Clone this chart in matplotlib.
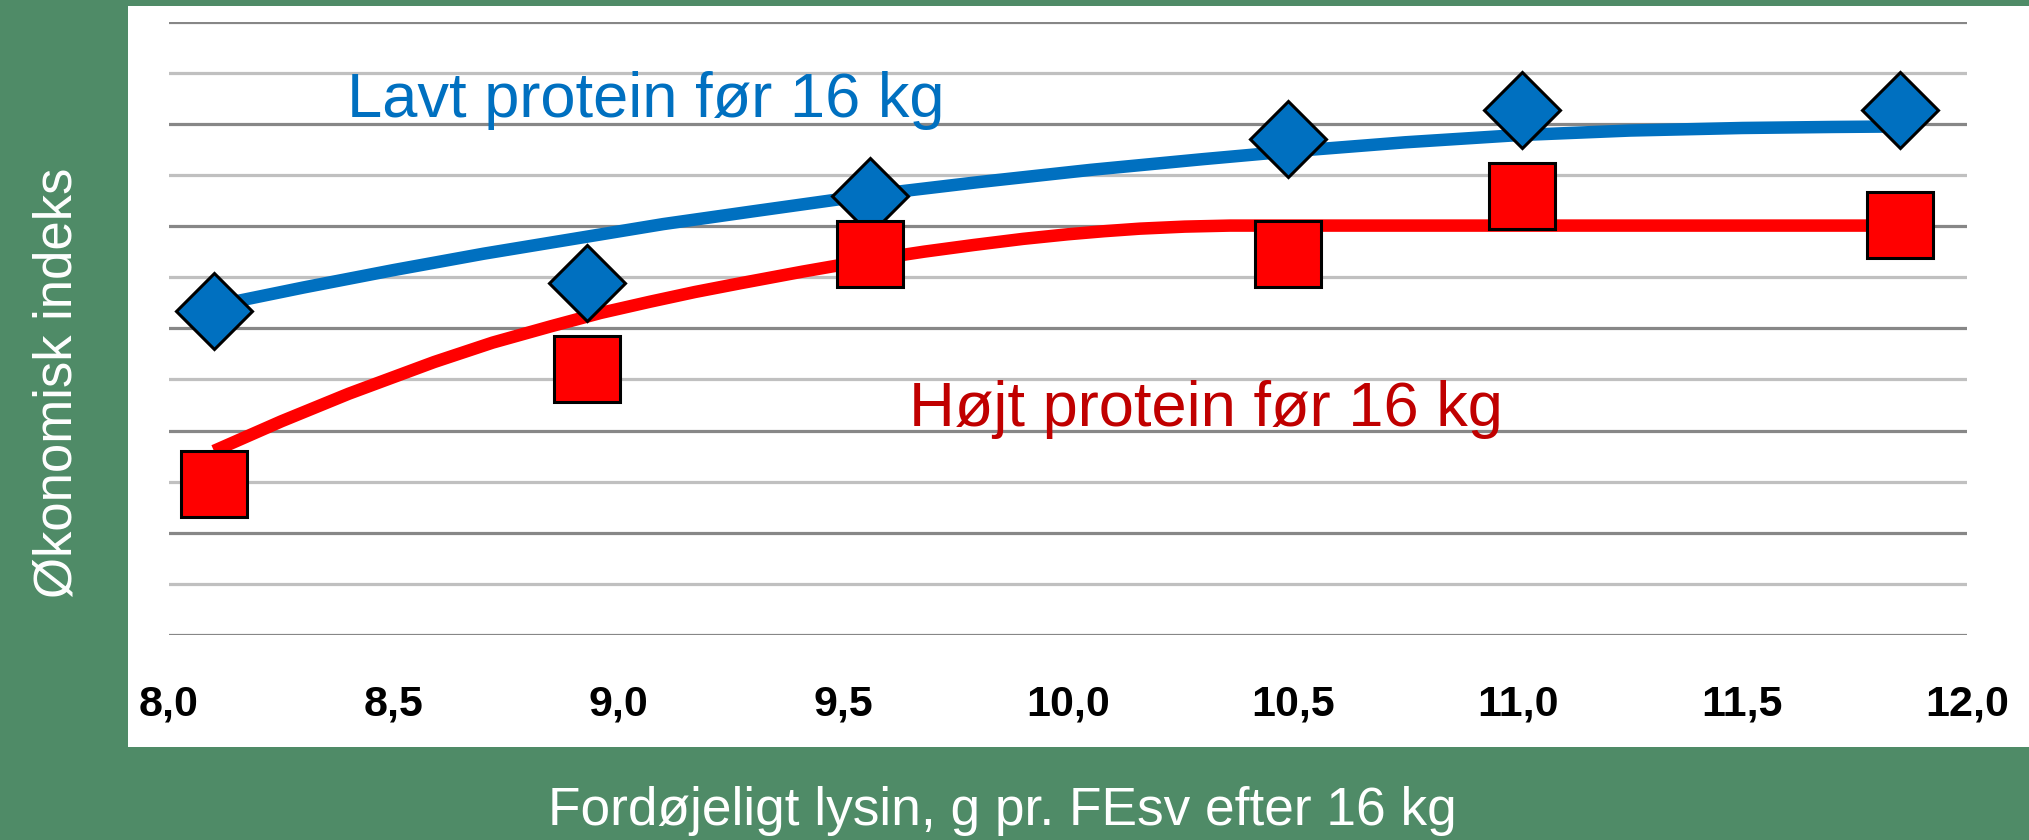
import numpy as np
import matplotlib
matplotlib.use("Agg")
import matplotlib.pyplot as plt
from matplotlib.patches import Rectangle

plt.rcParams['font.family'] = ['Liberation Sans', 'DejaVu Sans']

# observed points (x = digestible lysine, y = index in gridline units)
lysin = [8.10, 8.93, 9.56, 10.49, 11.01, 11.85]
lavt_obs = [6.33, 6.88, 8.58, 9.71, 10.27, 10.27]
hojt_obs = [2.95, 5.20, 7.45, 7.45, 8.58, 8.02]

# fitted curves
lavt_fit_x = [8.10, 8.30, 8.50, 8.70, 8.90, 9.10, 9.30, 9.56, 9.80, 10.05, 10.30, 10.49,
              10.75, 11.00, 11.25, 11.50, 11.70, 11.85]
lavt_fit_y = [6.44, 6.80, 7.14, 7.46, 7.75, 8.04, 8.29, 8.61, 8.86, 9.10, 9.31, 9.46,
              9.64, 9.78, 9.87, 9.92, 9.94, 9.95]
hojt_fit_x = [8.10, 8.25, 8.40, 8.59, 8.72, 8.85, 8.96, 9.07, 9.17, 9.27, 9.41, 9.56, 9.68,
              9.79, 9.90, 10.00, 10.08, 10.16, 10.26, 10.36, 11.85]
hojt_fit_y = [3.60, 4.18, 4.72, 5.34, 5.72, 6.04, 6.30, 6.52, 6.71, 6.88, 7.11, 7.34, 7.50,
              7.63, 7.75, 7.84, 7.90, 7.95, 7.99, 8.01, 8.01]

xticks = [8.0, 8.5, 9.0, 9.5, 10.0, 10.5, 11.0, 11.5, 12.0]
xlabels = [f"{t:.1f}".replace('.', ',') for t in xticks]

green = '#4F8B67'
blue = '#0070C0'
red = '#FF0000'
darkred = '#C00000'

fig = plt.figure(figsize=(20.29, 8.40), dpi=100)
fig.patch.set_facecolor(green)

# white chart panel
fig.patches.append(Rectangle((128 / 2029, 1 - 747 / 840), 1 - 128 / 2029, (747 - 6) / 840,
                             transform=fig.transFigure, facecolor='white', edgecolor='none', zorder=-10))

ax = fig.add_axes([169 / 2029, 1 - 634.9 / 840, (1967 - 169) / 2029, (634.9 - 21.7) / 840])
ax.set_facecolor('none')
ax.set_xlim(8, 12)
ax.set_ylim(0, 12)
for s in ax.spines.values():
    s.set_visible(False)

ax.set_yticks(np.arange(0, 13, 2))
ax.set_yticks(np.arange(1, 12, 2), minor=True)
ax.grid(which='major', axis='y', color='#878787', linewidth=2.3)
ax.grid(which='minor', axis='y', color='#C0C0C0', linewidth=2.3)
ax.tick_params(axis='y', which='both', left=False, labelleft=False)
ax.set_axisbelow(True)

ax.set_xticks(xticks)
ax.set_xticklabels(xlabels, fontsize=31, fontweight='bold')
ax.tick_params(axis='x', length=0, pad=36)

ax.plot(lavt_fit_x, lavt_fit_y, color=blue, linewidth=9, solid_capstyle='butt',
        solid_joinstyle='round', zorder=2)
ax.plot(hojt_fit_x, hojt_fit_y, color=red, linewidth=9, solid_capstyle='butt',
        solid_joinstyle='round', zorder=2)

ax.plot(lysin, lavt_obs, linestyle='none', marker='D', markersize=38.5, markerfacecolor=blue,
        markeredgecolor='black', markeredgewidth=2.2, zorder=3, clip_on=False)
ax.plot(lysin, hojt_obs, linestyle='none', marker='s', markersize=47, markerfacecolor=red,
        markeredgecolor='black', markeredgewidth=2.2, zorder=4, clip_on=False)

ax.text(8.396, 10.135, "Lavt protein før 16 kg", color=blue, fontsize=45.5, va='baseline', ha='left')
ax.text(9.646, 4.094, "Højt protein før 16 kg", color=darkred, fontsize=45.5, va='baseline', ha='left')

fig.text(1002 / 2029, 1 - 811 / 840, "Fordøjeligt lysin, g pr. FEsv efter 16 kg",
         color='white', fontsize=38.3, ha='center', va='center')
fig.text(58 / 2029, 1 - 383 / 840, "Økonomisk indeks", color='white', fontsize=38,
         rotation=90, ha='center', va='center')

fig.savefig('out.png', dpi=100, facecolor=fig.get_facecolor())
